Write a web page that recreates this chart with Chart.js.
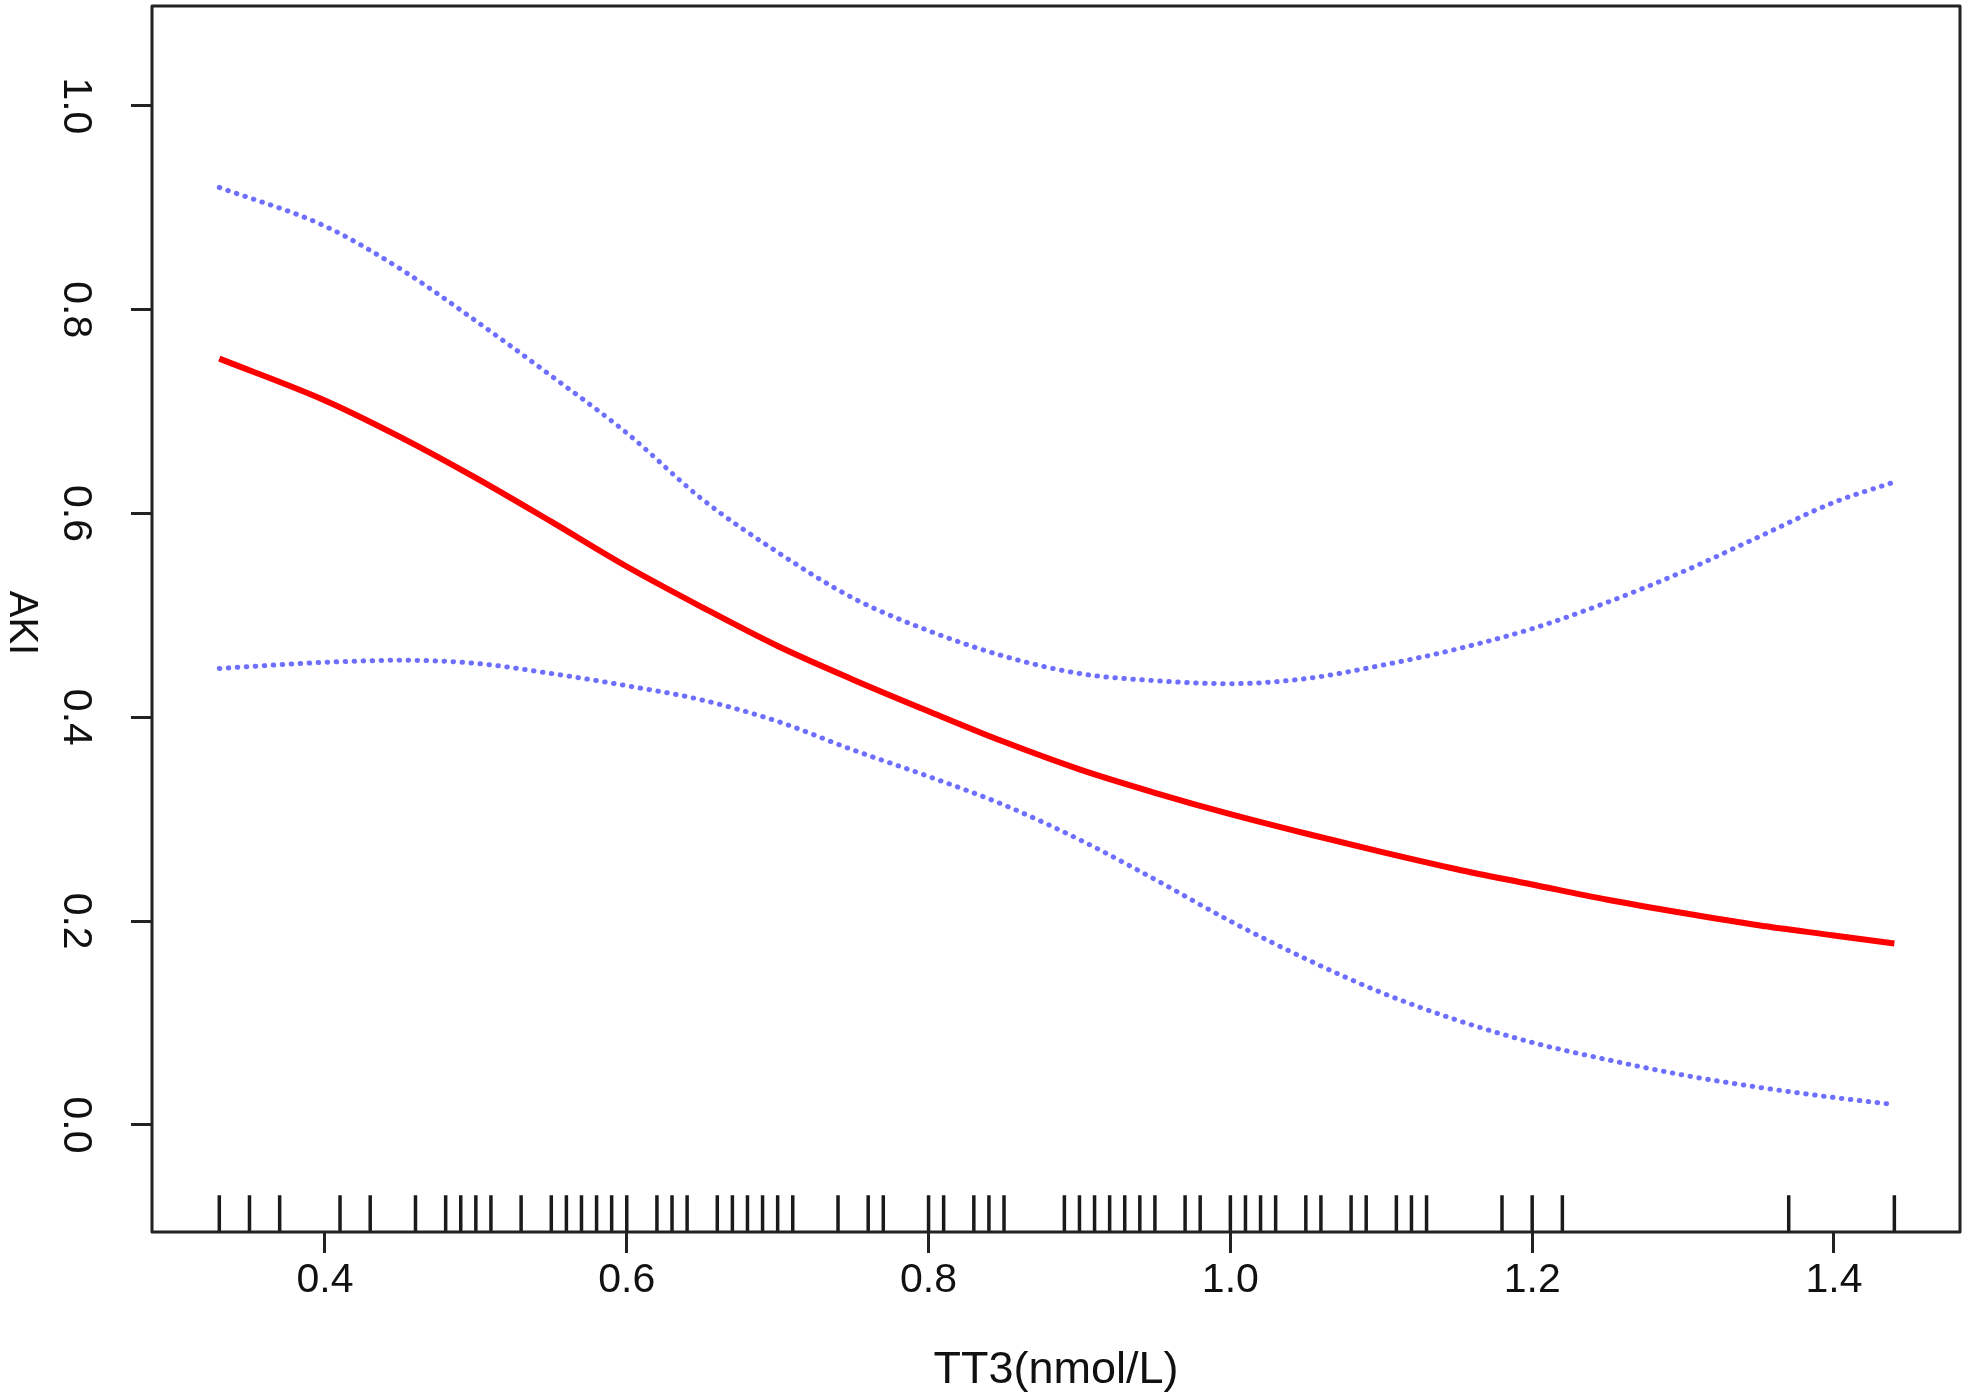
<!DOCTYPE html>
<html>
<head>
<meta charset="utf-8">
<script src="https://cdn.jsdelivr.net/npm/chart.js@4.4.0/dist/chart.umd.min.js"></script>
<style>
    html, body { margin: 0; padding: 0; background: #fff; }
    #wrap { width: 1969px; height: 1399px; }
</style>
</head>
<body>
<div id="wrap"><canvas id="rcs-chart"></canvas></div>
<script>
const tt3Grid = [0.33, 0.40, 0.45, 0.50, 0.55, 0.60, 0.65, 0.70, 0.75, 0.80, 0.85, 0.90,
                 0.95, 1.00, 1.05, 1.10, 1.15, 1.20, 1.25, 1.30, 1.35, 1.40, 1.44];
const fitAKI = [0.752, 0.711, 0.675, 0.635, 0.592, 0.548, 0.508, 0.470, 0.437, 0.406, 0.376, 0.349,
                0.326, 0.305, 0.286, 0.268, 0.251, 0.236, 0.221, 0.208, 0.196, 0.186, 0.178];
const upperCI = [0.920, 0.882, 0.840, 0.789, 0.735, 0.679, 0.614, 0.562, 0.517, 0.485, 0.460, 0.443,
                 0.436, 0.433, 0.438, 0.451, 0.467, 0.487, 0.513, 0.543, 0.577, 0.611, 0.631];
const lowerCI = [0.448, 0.454, 0.456, 0.453, 0.443, 0.431, 0.417, 0.396, 0.368, 0.342, 0.314, 0.280,
                 0.241, 0.200, 0.163, 0.130, 0.103, 0.081, 0.064, 0.049, 0.037, 0.027, 0.020];

// rug of observed TT3 values
const rugTT3 = [0.33, 0.35, 0.37, 0.41, 0.43, 0.46, 0.48, 0.49, 0.50, 0.51, 0.53, 0.55, 0.56, 0.57,
                0.58, 0.59, 0.60, 0.62, 0.63, 0.64, 0.66, 0.67, 0.68, 0.69, 0.70, 0.71, 0.74, 0.76,
                0.77, 0.80, 0.81, 0.83, 0.84, 0.85, 0.89, 0.90, 0.91, 0.92, 0.93, 0.94, 0.95, 0.97,
                0.98, 1.00, 1.01, 1.02, 1.03, 1.05, 1.06, 1.08, 1.09, 1.11, 1.12, 1.13, 1.18, 1.20,
                1.22, 1.37, 1.44];

const xTicks = [0.4, 0.6, 0.8, 1.0, 1.2, 1.4];
const yTicks = [0.0, 0.2, 0.4, 0.6, 0.8, 1.0];
const xRange = [0.2854, 1.4835];
const yRange = [-0.105, 1.098];
const rugTop = -0.069;

const FONT = "'Liberation Sans', Arial, Helvetica, sans-serif";
const INK = '#222';

function toPoints(xs, ys) {
    return xs.map((x, i) => ({ x: x, y: ys[i] }));
}

function rugPoints() {
    const pts = [];
    rugTT3.forEach(v => {
        pts.push({ x: v, y: yRange[0] });
        pts.push({ x: v, y: rugTop });
        pts.push({ x: v, y: null });
    });
    return pts;
}

// box + rotated y labels, R style
const rFrame = {
    id: 'rFrame',
    afterDraw(chart) {
        const { ctx, chartArea: a, scales } = chart;
        ctx.save();
        ctx.strokeStyle = INK;
        ctx.lineWidth = 3;
        ctx.lineJoin = 'round';
        ctx.strokeRect(a.left, a.top, a.right - a.left, a.bottom - a.top);

        ctx.fillStyle = '#111';
        ctx.font = '41px ' + FONT;
        ctx.textAlign = 'center';
        ctx.textBaseline = 'middle';
        yTicks.forEach(v => {
            const py = scales.y.getPixelForValue(v);
            ctx.save();
            ctx.translate(75, py);
            ctx.rotate(Math.PI / 2);
            ctx.fillText(v.toFixed(1), 0, 0);
            ctx.restore();
        });

        ctx.font = '40px ' + FONT;
        ctx.save();
        ctx.translate(21, (a.top + a.bottom) / 2 + 4);
        ctx.rotate(Math.PI / 2);
        ctx.fillText('AKI', 0, 0);
        ctx.restore();
        ctx.restore();
    }
};

const ctx = document.getElementById('rcs-chart').getContext('2d');
new Chart(ctx, {
    type: 'line',
    data: {
        datasets: [
            {
                label: 'upper',
                data: toPoints(tt3Grid, upperCI),
                borderColor: 'rgba(55,55,255,0.72)',
                borderWidth: 5,
                borderDash: [0.5, 8.5],
                borderCapStyle: 'round',
                pointRadius: 0,
                cubicInterpolationMode: 'monotone'
            },
            {
                label: 'lower',
                data: toPoints(tt3Grid, lowerCI),
                borderColor: 'rgba(55,55,255,0.72)',
                borderWidth: 5,
                borderDash: [0.5, 8.5],
                borderCapStyle: 'round',
                pointRadius: 0,
                cubicInterpolationMode: 'monotone'
            },
            {
                label: 'fit',
                data: toPoints(tt3Grid, fitAKI),
                borderColor: '#ff0000',
                borderWidth: 6,
                pointRadius: 0,
                cubicInterpolationMode: 'monotone'
            },
            {
                label: 'rug',
                data: rugPoints(),
                borderColor: '#1a1a1a',
                borderWidth: 3.5,
                pointRadius: 0,
                spanGaps: false
            }
        ]
    },
    options: {
        responsive: true,
        maintainAspectRatio: false,
        animation: false,
        layout: { padding: { top: 6, right: 9, left: 0, bottom: 0 } },
        plugins: {
            legend: { display: false },
            tooltip: { enabled: false }
        },
        scales: {
            x: {
                type: 'linear',
                min: xRange[0],
                max: xRange[1],
                afterBuildTicks: s => { s.ticks = xTicks.map(v => ({ value: v })); },
                afterFit: s => { s.height = 167; },
                border: { display: false },
                grid: { drawOnChartArea: false, drawTicks: true, tickLength: 21, color: INK, lineWidth: 3 },
                ticks: {
                    padding: 3,
                    color: '#111',
                    font: { family: FONT, size: 41 },
                    callback: v => v.toFixed(1),
                    maxRotation: 0
                },
                title: {
                    display: true,
                    text: 'TT3(nmol/L)',
                    color: '#111',
                    font: { family: FONT, size: 45 },
                    padding: { top: 0, bottom: 1 }
                }
            },
            y: {
                type: 'linear',
                min: yRange[0],
                max: yRange[1],
                afterBuildTicks: s => { s.ticks = yTicks.map(v => ({ value: v })); },
                afterFit: s => { s.width = 152; },
                border: { display: false },
                grid: { drawOnChartArea: false, drawTicks: true, tickLength: 21, color: INK, lineWidth: 3 },
                ticks: { display: false }
            }
        }
    },
    plugins: [rFrame]
});
</script>
</body>
</html>
